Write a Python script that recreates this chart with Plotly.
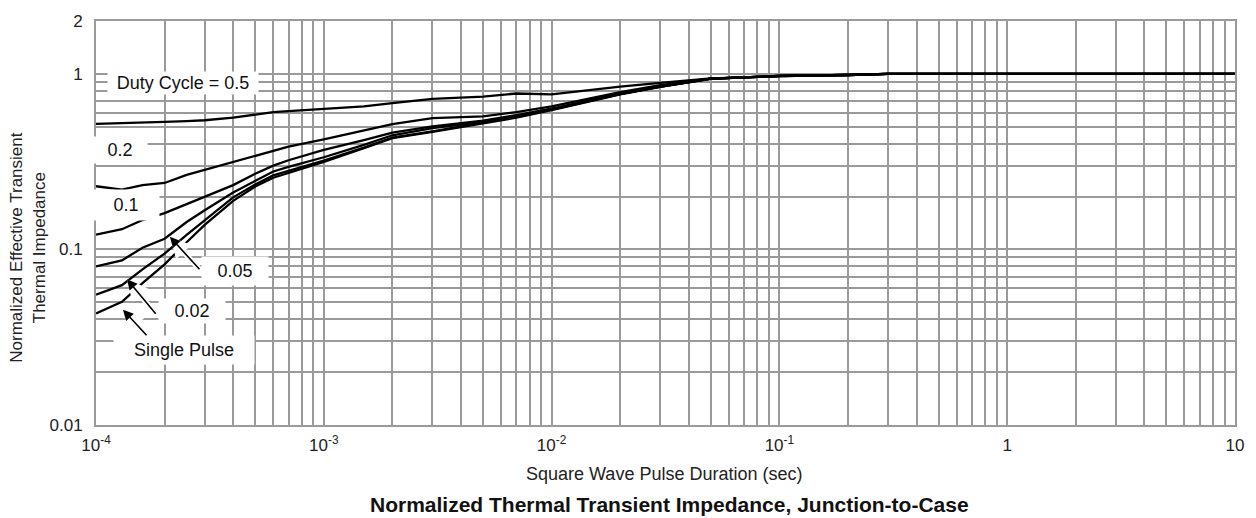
import plotly.graph_objects as go

# ---------------- data ----------------
pulse_sec = [1e-4, 1.3e-4, 1.6e-4, 2e-4, 2.5e-4, 3e-4, 4e-4, 5e-4, 6e-4, 7e-4,
             1e-3, 1.5e-3, 2e-3, 3e-3, 5e-3, 7e-3, 1e-2, 2e-2, 3e-2, 5e-2,
             7e-2, 0.1, 0.2, 0.3, 1, 10]

duty_0_5 = [0.519, 0.526, 0.530, 0.533, 0.538, 0.544, 0.563, 0.586, 0.605, 0.614,
            0.633, 0.652, 0.681, 0.720, 0.742, 0.773, 0.765, 0.846, 0.888, 0.941,
            0.955, 0.970, 0.986, 1.0, 1.0, 1.0]
duty_0_2 = [0.229, 0.219, 0.2325, 0.239, 0.266, 0.284, 0.315, 0.342, 0.363, 0.385,
            0.424, 0.476, 0.518, 0.560, 0.573, 0.605, 0.652, 0.788, 0.863, 0.940,
            0.957, 0.973, 0.985, 1.0, 1.0, 1.0]
duty_0_1 = [0.1215, 0.1303, 0.147, 0.161, 0.181, 0.199, 0.2325, 0.270, 0.300, 0.322,
            0.369, 0.419, 0.462, 0.502, 0.542, 0.582, 0.633, 0.770, 0.846, 0.939,
            0.957, 0.973, 0.985, 1.0, 1.0, 1.0]
duty_0_05 = [0.0801, 0.0866, 0.1023, 0.115, 0.1432, 0.1673, 0.211, 0.2464, 0.278, 0.295,
             0.335, 0.394, 0.447, 0.491, 0.532, 0.574, 0.629, 0.768, 0.845, 0.939,
             0.957, 0.973, 0.985, 1.0, 1.0, 1.0]
duty_0_02 = [0.0553, 0.0626, 0.077, 0.0947, 0.1211, 0.147, 0.198, 0.234, 0.264, 0.280,
             0.321, 0.380, 0.433, 0.470, 0.525, 0.567, 0.625, 0.767, 0.845, 0.938,
             0.956, 0.972, 0.985, 1.0, 1.0, 1.0]
single_pulse = [0.0432, 0.0503, 0.0643, 0.0822, 0.1099, 0.1378, 0.189, 0.228, 0.256, 0.273,
                0.315, 0.377, 0.430, 0.467, 0.521, 0.563, 0.621, 0.765, 0.844, 0.937,
                0.956, 0.972, 0.985, 1.0, 1.0, 1.0]

series = [duty_0_5, duty_0_2, duty_0_1, duty_0_05, duty_0_02, single_pulse]

x_tick_vals = [1e-4, 1e-3, 1e-2, 1e-1, 1, 10]
x_tick_text = ["10<sup>-4</sup>", "10<sup>-3</sup>", "10<sup>-2</sup>", "10<sup>-1</sup>", "1", "10"]
y_tick_vals = [0.01, 0.1, 1, 2]
y_tick_text = ["0.01", "0.1", "1", "2"]

x_minor = [k * 10.0 ** d for d in range(-4, 1) for k in range(2, 10)]
y_minor = [k * 10.0 ** d for d in range(-2, 0) for k in range(2, 10)]

# ---------------- figure ----------------
W, H = 1256, 518
L, R, T, B = 96, 19, 15, 93
PW, PH = W - L - R, H - T - B
FONT = "Liberation Sans, Arial, Helvetica, sans-serif"
GRID = "#9a9a9a"


def px(xp, yp):
    return (xp - L) / PW, 1 - (yp - T) / PH


fig = go.Figure()
for s in series:
    fig.add_trace(go.Scatter(x=pulse_sec, y=s, mode="lines",
                             line=dict(color="black", width=2.3),
                             showlegend=False, hoverinfo="skip"))

axis_common = dict(showline=True, mirror=True, linecolor=GRID, linewidth=1.8,
                   showgrid=True, gridcolor=GRID, gridwidth=1.6, zeroline=False,
                   ticks="", tickfont=dict(family=FONT, size=17, color="#222"))

fig.update_xaxes(type="log", range=[-4, 1], tickvals=x_tick_vals, ticktext=x_tick_text,
                 minor=dict(tickvals=x_minor, showgrid=True, gridcolor=GRID, gridwidth=1.6),
                 ticklabelstandoff=4, **axis_common)
fig.update_yaxes(type="log", range=[-2, 0.30103], tickvals=y_tick_vals, ticktext=y_tick_text,
                 minor=dict(tickvals=y_minor, showgrid=True, gridcolor=GRID, gridwidth=1.6),
                 ticklabelstandoff=8, **axis_common)

ann = []
# curve labels with white boxes (centre px, text, box width, box height)
labels = [
    ((183, 78), "Duty Cycle = 0.5", 150, 22),
    ((120, 146), "0.2", 54, 26),
    ((126, 202), "0.1", 66, 30),
    ((235, 269), "0.05", 66, 28),
    ((192, 309), "0.02", 66, 24),
    ((184, 349), "Single Pulse", 140, 28),
]
for (cx, cy), txt, bw, bh in labels:
    xp, yp = px(cx, cy)
    ann.append(dict(xref="paper", yref="paper", x=xp, y=yp, text=txt, showarrow=False,
                    xanchor="center", yanchor="middle", bgcolor="white",
                    width=bw, height=bh, borderpad=0,
                    font=dict(family=FONT, size=18, color="#111")))

# arrows (head px, tail offset px) - white halo first, then black arrow
arrows = [((170, 234), 31, 34), ((127, 277), 30, 36), ((123, 308), 25, 27)]
for (hx, hy), dx, dy in arrows:
    xp, yp = px(hx, hy)
    ann.append(dict(xref="paper", yref="paper", x=xp, y=yp, text="", showarrow=True,
                    ax=dx, ay=dy, arrowhead=2, arrowsize=0.75, arrowwidth=5.5,
                    arrowcolor="white", standoff=0))
for (hx, hy), dx, dy in arrows:
    xp, yp = px(hx, hy)
    ann.append(dict(xref="paper", yref="paper", x=xp, y=yp, text="", showarrow=True,
                    ax=dx, ay=dy, arrowhead=2, arrowsize=1.3, arrowwidth=1.6,
                    arrowcolor="black", standoff=0))

# y axis title (two lines, rotated)
xp, yp = px(28, 245)
ann.append(dict(xref="paper", yref="paper", x=xp, y=yp, textangle=-90,
                text="Normalized Effective Transient<br>Thermal Impedance", showarrow=False,
                xanchor="center", yanchor="middle",
                font=dict(family=FONT, size=17, color="#222")))
# x axis title
xp, yp = px(665, 475)
ann.append(dict(xref="paper", yref="paper", x=xp, y=yp, text="Square Wave Pulse Duration (sec)",
                showarrow=False, xanchor="center", yanchor="middle",
                font=dict(family=FONT, size=18, color="#222")))
# chart title (bottom, bold)
xp, yp = px(671, 506)
ann.append(dict(xref="paper", yref="paper", x=xp, y=yp,
                text="<b>Normalized Thermal Transient Impedance, Junction-to-Case</b>",
                showarrow=False, xanchor="center", yanchor="middle",
                font=dict(family=FONT, size=21, color="#111")))

fig.update_layout(width=W, height=H, margin=dict(l=L, r=R, t=T, b=B),
                  paper_bgcolor="white", plot_bgcolor="white", annotations=ann,
                  showlegend=False)

fig.write_html("out.html", config={"displayModeBar": False},
               post_script="document.body.style.margin='0';"
                           "document.body.style.overflow='hidden';")
